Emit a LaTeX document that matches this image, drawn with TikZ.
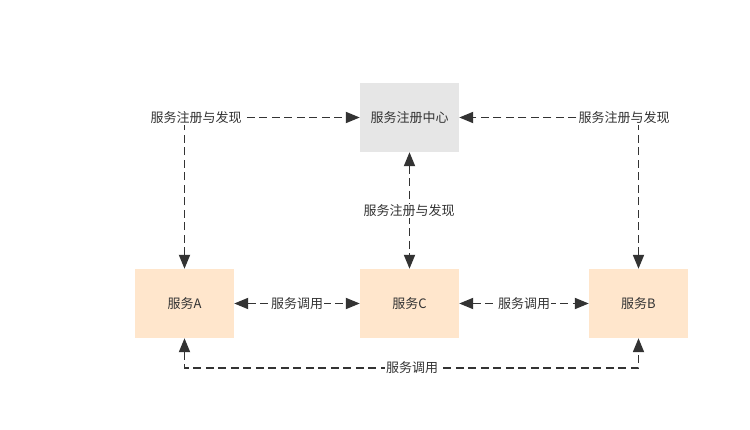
\documentclass[tikz,border=0pt]{standalone}
\usepackage{fontspec}
\setmainfont{Noto Sans CJK SC}
\usetikzlibrary{arrows.meta}
\definecolor{regfill}{HTML}{E6E6E6}
\definecolor{svcfill}{HTML}{FFE6CC}
\definecolor{ink}{HTML}{333333}
\tikzset{
  regbox/.style={fill=regfill, minimum width=99pt, minimum height=69pt, inner sep=0pt, text=ink},
  svcbox/.style={fill=svcfill, minimum width=99pt, minimum height=69pt, inner sep=0pt, text=ink},
  link/.style={draw=ink, line width=1.8pt, dash pattern=on 8pt off 4.5pt,
    {Triangle[length=14pt,width=11pt]}-{Triangle[length=14pt,width=11pt]}},
  lbl/.style={fill=white, inner sep=1pt, text=ink}
}
\begin{document}
\begin{tikzpicture}[x=1pt, y=-1pt, font=\fontsize{13}{15}\selectfont]
			%%%%% START %%%%%
			\useasboundingbox (0,0) rectangle (750,430);
			
			\node[regbox] (reg) at (409.5, 117.5) {服务注册中心};
			\node[svcbox] (svcA) at (184.5, 303.5) {服务A};
			\node[svcbox] (svcC) at (409.5, 303.5) {服务C};
			\node[svcbox] (svcB) at (638.5, 303.5) {服务B};
			
			\coordinate (botB) at (638.5, 368);
			
			\draw[link] (svcA.north) |- (reg.west);
			\draw[link] (svcB.north) |- (reg.east);
			\draw[link] (reg.south) -- (svcC.north);
			\draw[link] (svcA.east) -- (svcC.west);
			\draw[link] (svcC.east) -- (svcB.west);
			\draw[link] (svcA.south) |- (botB) -- (svcB.south);
			
			\node[lbl] (lblA) at (196, 118) {服务注册与发现};
			\node[lbl] (lblB) at (624, 118) {服务注册与发现};
			\node[lbl] (lblC) at (409, 211) {服务注册与发现};
			\node[lbl] (lblAC) at (297, 303.5) {服务调用};
			\node[lbl] (lblCB) at (524, 303.5) {服务调用};
			\node[lbl] (lblAB) at (412, 368) {服务调用};
			
			%%%%% END %%%%%
\end{tikzpicture}
\end{document}
